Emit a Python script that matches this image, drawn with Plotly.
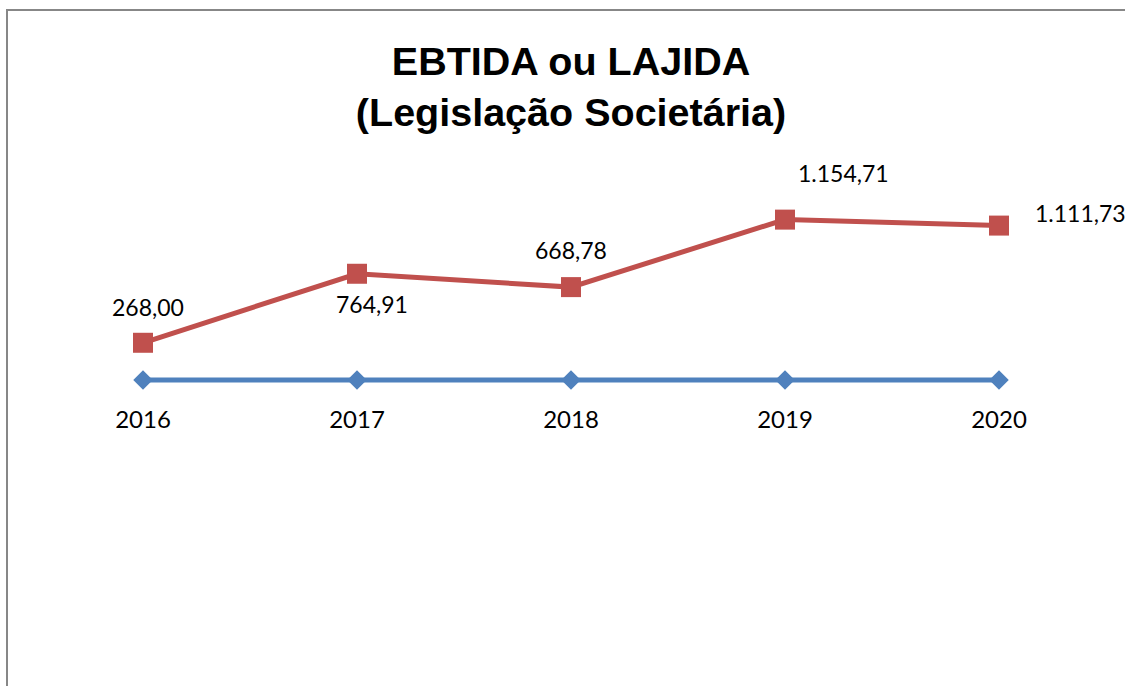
import plotly.graph_objects as go

years = ["2016", "2017", "2018", "2019", "2020"]
ebitda = [268.00, 764.91, 668.78, 1154.71, 1111.73]
base = [0, 0, 0, 0, 0]
title_lines = ["EBTIDA ou LAJIDA", "(Legislação Societária)"]

# label offsets (pixels) for the data labels, as placed in the original chart
label_dx = [5, 15, 0, 58, 34]
label_dy = [36, -30, 37, 47, 13]
label_anchor = ["center", "center", "center", "center", "left"]


def fmt_br(v):
    s = f"{v:,.2f}"
    return s.replace(",", "X").replace(".", ",").replace("X", ".")


W, H = 1125, 686
RED = "#C0504D"
BLUE = "#4F81BD"
FONT = "Lato, 'Open Sans', sans-serif"

fig = go.Figure()
fig.add_trace(go.Scatter(
    x=years, y=base, mode="lines+markers", name="Ano",
    line=dict(color=BLUE, width=5),
    marker=dict(symbol="diamond", size=15, color=BLUE),
    hoverinfo="skip",
))
fig.add_trace(go.Scatter(
    x=years, y=ebitda, mode="lines+markers", name="EBTIDA",
    line=dict(color=RED, width=5),
    marker=dict(symbol="square", size=20, color=RED),
))

for i, v in enumerate(ebitda):
    fig.add_annotation(
        x=i, y=v, xref="x", yref="y", text=fmt_br(v), showarrow=False,
        xshift=label_dx[i], yshift=label_dy[i], xanchor=label_anchor[i],
        font=dict(family=FONT, size=23, color="black"),
    )

zero_px = 380
units_per_px = 7.2
y_top = zero_px * units_per_px
y_bot = -(H - zero_px) * units_per_px

fig.update_layout(
    width=W, height=H,
    margin=dict(l=0, r=0, t=0, b=0),
    paper_bgcolor="white", plot_bgcolor="white",
    showlegend=False,
    title=dict(
        text="<br>".join(title_lines),
        x=571 / W, xanchor="center",
        y=1 - 75 / H, yanchor="middle",
        font=dict(family="'Liberation Sans', Arial, sans-serif", size=39.5, color="black"),
    ),
    font=dict(family=FONT, size=23, color="black"),
    xaxis=dict(
        type="category", range=[-0.5, 4.5],
        domain=[36 / W, 1106 / W],
        anchor="free", position=(H - zero_px) / H,
        showgrid=False, zeroline=False, showline=False,
        ticks="outside", ticklen=18, tickcolor="rgba(0,0,0,0)",
        tickfont=dict(family=FONT, size=24, color="black"),
    ),
    yaxis=dict(
        range=[y_bot, y_top], domain=[0, 1],
        visible=False, showgrid=False, zeroline=False,
    ),
    shapes=[dict(
        type="rect", xref="paper", yref="paper",
        x0=7 / W, x1=1.05, y0=-0.05, y1=(H - 10) / H,
        line=dict(color="#878787", width=2), fillcolor="rgba(0,0,0,0)",
        layer="below",
    )],
)
fig.update_layout(title_font_weight="bold")

fig.write_html("out.html", config={"displayModeBar": False},
               post_script="document.body.style.margin='0';")
